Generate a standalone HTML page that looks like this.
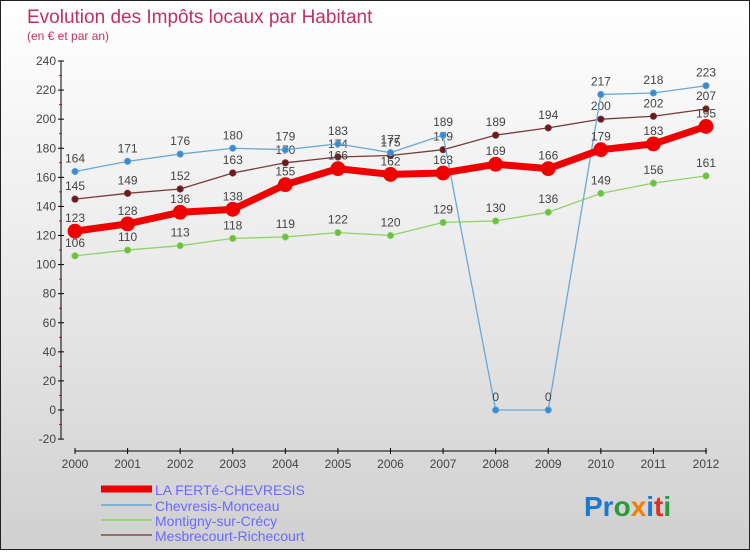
<!DOCTYPE html>
<html><head><meta charset="utf-8"><style>
html,body{margin:0;padding:0}
body{width:750px;height:550px;overflow:hidden;font-family:"Liberation Sans",sans-serif}
#wrap{position:relative;width:748px;height:548px;border:1px solid #222;background:linear-gradient(#fff 0%,#ececec 45%,#d0d0d0 100%)}
</style></head><body>
<div id="wrap">
<svg id="chart" width="748" height="548" font-family="Liberation Sans, sans-serif">
<text x="26" y="22" font-size="19" fill="#c0315e">Evolution des Impôts locaux par Habitant</text>
<text x="26" y="39" font-size="12" fill="#c0315e">(en € et par an)</text>
<g id="axes"></g><g id="series"></g><g id="legend"></g>
<text x="583" y="515" font-size="28" font-weight="bold"><tspan fill="#1e78d0">Pr</tspan><tspan fill="#2a9a3a">o</tspan><tspan fill="#f08000">x</tspan><tspan fill="#1e78d0">i</tspan><tspan fill="#e03020">t</tspan><tspan fill="#2a9a3a">i</tspan></text>
</svg>
</div>
<script>
const years=[2000,2001,2002,2003,2004,2005,2006,2007,2008,2009,2010,2011,2012];
const yTicks=[-20,0,20,40,60,80,100,120,140,160,180,200,220,240];
const laFerte=[123,128,136,138,155,166,162,163,169,166,179,183,195];
const chevresis=[164,171,176,180,179,183,177,189,0,0,217,218,223];
const montigny=[106,110,113,118,119,122,120,129,130,136,149,156,161];
const mesbrecourt=[145,149,152,163,170,174,175,179,189,194,200,202,207];
const NS='http://www.w3.org/2000/svg';
function X(i){return 74+i*(705-74)/(years.length-1);}
function Y(v){return 409-v*(349/240);}
function mk(tag,attrs,parent,text){const e=document.createElementNS(NS,tag);for(const k in attrs)e.setAttribute(k,attrs[k]);if(text!==undefined)e.textContent=text;parent.appendChild(e);return e;}
const ax=document.getElementById('axes');
let l=mk('line',{x1:60,y1:Y(240),x2:60,y2:Y(-20),stroke:'#000','stroke-width':1},ax);


yTicks.forEach(v=>{
  mk('line',{x1:57,y1:Y(v),x2:63,y2:Y(v),stroke:'#000'},ax);
  if(v<240) mk('line',{x1:58,y1:Y(v+10),x2:61,y2:Y(v+10),stroke:'#e00'},ax);
  const t=mk('text',{x:55,y:Y(v)+4,'font-size':12,fill:'#444','text-anchor':'end'},ax,String(v));
  
  
});
l=mk('line',{x1:74,y1:450,x2:706,y2:450,stroke:'#000'},ax);


years.forEach((y,i)=>{
  mk('line',{x1:X(i),y1:447,x2:X(i),y2:453,stroke:'#000'},ax);
  const t=mk('text',{x:X(i),y:467,'font-size':12,fill:'#444','text-anchor':'middle'},ax,String(y));
  
  
});
const sg=document.getElementById('series');
function series(vals,color,dot,w,r,name){
  const g=mk('g',{},sg);
  
  
  mk('polyline',{points:vals.map((v,i)=>X(i)+','+Y(v)).join(' '),fill:'none',stroke:color,'stroke-width':w,'stroke-linejoin':'round'},g);
  vals.forEach((v,i)=>{
    const c=mk('circle',{cx:X(i),cy:Y(v),r:r,fill:dot,stroke:color,'stroke-width':0.8},g);
    
    
    const t=mk('text',{x:X(i),y:Y(v)-9,'font-size':12,fill:'#444','text-anchor':'middle'},g,String(v));
    
    
  });
}
series(montigny,'#8fd46a','#6cc040',1.3,3.2,'montigny-series');
series(mesbrecourt,'#7a3a3a','#6a1a1a',1.3,3.2,'mesbrecourt-series');
series(chevresis,'#6aa8d8','#3a8ad0',1.3,3.2,'chevresis-series');
series(laFerte,'#f00000','#f00000',7,7,'la-ferte-series');
const lg=document.getElementById('legend');
const items=[['LA FERTé-CHEVRESIS','#f00000',7],['Chevresis-Monceau','#7ab0d0',2],['Montigny-sur-Crécy','#98d878',2],['Mesbrecourt-Richecourt','#9a6a6a',2]];
const ly=[492,508,523,538];
items.forEach((it,k)=>{
  const g=mk('g',{},lg);
  
  
  mk('line',{x1:100,y1:ly[k]-4,x2:151,y2:ly[k]-4,stroke:it[1],'stroke-width':it[2]},g);
  mk('text',{x:154,y:ly[k]+2,'font-size':14,fill:'#6a6aff'},g,it[0]);
});
</script>
</body></html>
